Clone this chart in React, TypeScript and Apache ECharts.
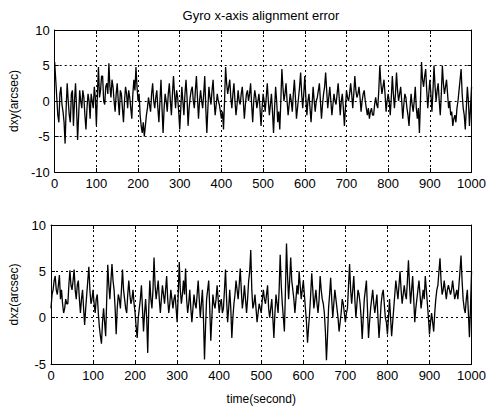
import React, { useEffect, useRef } from "react";
import * as echarts from "echarts";

const TITLE = "Gyro x-axis alignment error";
const X_NAME = "time(second)";
const Y1_NAME = "dxy(arcsec)";
const Y2_NAME = "dxz(arcsec)";
const STEP = 2.5; // seconds between samples

const dxy: number[] = [
  5.5, 3, 0.5, -2, -3, 1, 2, -0.5, -1.5, -3, -6, -1, 2.5, 0, -2, -3, 1, 1.5, -3.5, 0,
  2.5, -1, -5.5, -2, 1.5, 0, -1, 1.5, 0.5, -2, -4, -1, 1, 0, -2.5, 1, 0, -1, 2, 0.5,
  -3.5, 1, 4.8, 0.5, 1.5, 3.5, 3.5, 0, -0.5, 2, 2.5, 1, 5.3, 2, 0.5, 3, 2, 0, -1.5, 1,
  2.5, 0, -2, 1.5, 1, -1, -3, 0, 2, 1, -1, 1.5, 0.5, -1, -2.5, 1, 3, 1.5, 4.8, 2,
  0, 1, -2, -3.5, -4.5, -3, -5, -3.5, -2, -1, 0.5, -0.5, -1.5, 1, 2.5, 0, -1, 0.5, 1.5, -1,
  -3, 0, 3, -1, -4.5, -1, 1, 0, -1.5, 1, 2.5, 0, -2, 1, 3.5, 1, -1, 1.5, 0.5, -1.5,
  -4, -1, 2, 0, -2, 1, 3, 0.5, -3.5, -1, 0.5, 1.5, 2, 0, -1, 1.5, 3.5, 0.5, -2.5, 0,
  1.5, 0, -1, 1, 3.5, -1, -4.5, -1, 2, 0.5, -0.5, 1.5, 3, 0, -2, -0.5, 1, 0, -0.5, -1.5,
  -2.5, -1.5, -4, 0, 4.8, 2.5, 1, 2, 3, 0.5, -1, 1, 2.5, 0, -2, -0.5, 1.5, 0, -0.5, 1,
  2, 0, -2.5, -0.5, 1, 1.5, 0, 1, 2.5, -0.5, -3, 0, 1.5, 0.5, -1, 0, 1, -1, -3.5, -1,
  1, 0, -1.5, 0.5, 2.5, 0, -2, -0.5, 1, -1.5, -4.5, -1, 2, 0, -3, -1.5, -4, 0, 4.5, 2,
  0, 1, 2.5, 0, -2, -0.5, 1, 0, -1.5, 1, 3, 0.5, -2.5, -1, 0.5, 2, 4, 1, -1, 1,
  3.5, 0.5, -2, 0, 1, -1, -3, -0.5, 2, 0, -1.5, 0, 0.5, 1.5, 2.5, 0, -2.5, -0.5, 1, 2,
  4, 1.5, -1, 0.5, 2, 0, -2, -0.5, 1, 0, -0.5, 1, 2.5, 0.5, -2, 0, 1, -1, -3.5, -1,
  1.5, 0.5, 0, 1, 2.5, 1, -1, 1, 3.5, 1.5, 0.5, 1, 2, 0.5, -1.5, 0, 1, 1.5, 0, -1,
  -2, -1, -2.5, -1.5, -1, -2, -2, -0.5, 0.5, -0.5, -1, 1.5, 5, 2.5, 1, 2, 3, 1, -1.5, 0,
  1, 0, -2, 0.5, 3.5, 1, -1, 1, 4, 1.5, 0, 1, 2, 0, -2.5, -0.5, 1, 0.5, -1, -2,
  -3.5, -1, 1, -0.5, -1.5, 0, 2, -1, -2.5, -1, -4.5, 0, 5.5, 3, 2, 3.5, 4.5, 1.5, -1, 1,
  3, 1, -1.5, 1.5, 5, 2, 0, 1.5, 2.5, 0, -2, 1, 5, 2.5, 1, 2, 3, 1, -1, 0,
  -2, -1.5, -3.5, -2.5, -2, -3, -1, 0, 1.5, 3, 4.5, 1, -1, -2, -4, -1, 2, 0, -3.5, -1,
  2,
];

const dxz: number[] = [
  1, 2.5, 3, 4, 4.5, 3, 2.5, 3.5, 4.6, 2, 3, 1.5, 0.5, 1, 2, 1.5, 1.5, 3.5, 5.1, 3.5,
  3, 4, 5.2, 3, 2, 3.5, 4, 2, 0.5, 2, 3, 1, -0.8, 1, 2.5, 4, 5.5, 3, 1.5, 2,
  3, 1.5, 0.5, 2, 2.5, 0.5, -1, -2, -2.8, -0.5, 1, -0.5, -2, 2, 5.7, 3.5, 2, 4, 5.8, 4,
  3, 1, -1.8, 1, 2.5, 2, 1, 3, 5.2, 3, 2, 1, 0.5, 2.5, 4, 2.5, 1.5, 2, 3, 1.5,
  0.5, -1, -2.2, 0, 1, 2, 3.5, 1, -1.5, 0.5, 2, 0, -3.8, 1, 4, 2, 1, 3, 6.5, 3.5,
  2, 3, 4, 2, 0.5, 2, 3.5, 2.5, 1.5, 3, 4.5, 2, 0.5, 1.5, 3, 2, 1, 2, 2.5, 1,
  -0.5, 2.5, 6, 3, 1.5, 2.5, 4, 2.5, 5.3, 2, 0.5, 1.5, 3, 1, -0.5, 1, 2.5, 1.5, 1, 2.5,
  4, 2, 0, 1.5, 3, 0, -4.5, -1, 2, 3, 4, 1, -2.5, 0, 2.5, 1.5, 1, 2, 3.5, 2,
  0.5, 1.5, 2, 0.5, 1, 3, 5.2, 2, -0.5, 1, 3, 1, -2.2, 0, 1.5, 2.5, 4, 3, 2, 3.5,
  5.3, 3, 1, 2, 3.5, 2, 0.5, 2, 4, 5, 7.3, 3, 1, 1.5, 2.5, 1, -0.5, 0.5, 1.5, 1,
  0.5, 2, 3, 2, 1.5, 2.5, 3.5, 1, 0, 1, 2, 0, -2.2, 0.5, 2.5, 1.5, 0.5, 3, 6.8, 3.5,
  1.5, 0, -1.5, 3, 8, 4.5, 2, 4, 6.5, 4, 3, 2, 0.5, 2, 3.5, 2.5, 5, 3.5, 2, 3,
  4, 2.5, 1, -0.5, -2.7, -1, 0.5, 2.5, 4.8, 3, 1, 2, 3, 1.5, 0.5, 2, 4.5, 3, 2, 1.5,
  0.5, -1.5, -4.6, -2, 1, 2.5, 4.3, 2, 0, 1.5, 3, 2, 1, 0, -1.5, -0.5, 0.5, 2, 1.5, 0.5,
  -0.5, 0.5, 1, 3.5, 5.8, 3, 1.5, 3, 4.5, 2, 0, 1.5, 3, 2.5, 1.5, 0, -2.3, 0, 2, 3,
  4, 1, -2.2, -0.5, 1, 2, 3, 1.5, 0.5, 1.5, 2.5, 0, -2.2, -0.5, 1.5, 2.5, 3, 1.5, 0, -0.5,
  -1.8, 0, 2, 0, -2, -0.5, 1, 2.5, 4, 3, 2, 3.5, 5, 3, 1.5, 2.5, 3.5, 2.5, 2, 4,
  6.2, 3.5, 1.5, 3, 4.5, 2, -0.5, 1, 2, 3, 4, 2.5, 1, 2, 3, 2, 4.5, 3, 1.5, 0,
  -1.8, -0.5, 0.5, -0.5, -1.5, 0.5, 2, 3, 3.5, 5, 6.4, 4, 2.5, 3, 4, 3, 2, 3, 3.5, 3,
  2.5, 3, 4, 3, 2, 2.5, 3, 2, 3.5, 5, 6.7, 4, 2, 1, 0.5, 2, 3, 0.5, -2.1, 1,
  5,
];

const FONT = "Arial, 'Liberation Sans', sans-serif";

export default function App() {
  const ref = useRef<HTMLDivElement>(null);
  useEffect(() => {
    if (!ref.current) return;
    const chart = echarts.init(ref.current, undefined, { renderer: "svg" });
    const gridLine = { show: true, lineStyle: { color: "#000", type: [2, 3], width: 1 } };
    const tick = { show: true, inside: true, length: 4, lineStyle: { color: "#000" } };
    const line = { show: true, onZero: false, lineStyle: { color: "#000", width: 1 } };
    const label = {
      color: "#000",
      fontSize: 13,
      fontFamily: FONT,
      formatter: (v: number) => String(v),
    };
    const mkX = (gi: number, name: string) => ({
      type: "value",
      gridIndex: gi,
      min: 0,
      max: 1000,
      interval: 100,
      name,
      nameLocation: "middle",
      nameGap: 29,
      nameTextStyle: { color: "#000", fontSize: 12, fontFamily: FONT },
      axisLine: line,
      axisTick: tick,
      axisLabel: { ...label, margin: 5 },
      splitLine: gridLine,
    });
    const mkXTop = (gi: number) => ({
      type: "value",
      gridIndex: gi,
      position: "top",
      min: 0,
      max: 1000,
      interval: 100,
      axisLine: line,
      axisTick: tick,
      axisLabel: { show: false },
      splitLine: { show: false },
    });
    const mkY = (gi: number, min: number, name: string) => ({
      type: "value",
      gridIndex: gi,
      min,
      max: 10,
      interval: 5,
      name,
      nameLocation: "middle",
      nameGap: 31,
      nameTextStyle: { color: "#000", fontSize: 12, fontFamily: FONT },
      axisLine: line,
      axisTick: tick,
      axisLabel: { ...label, margin: 5 },
      splitLine: gridLine,
    });
    const mkYRight = (gi: number, min: number) => ({
      type: "value",
      gridIndex: gi,
      position: "right",
      min,
      max: 10,
      interval: 5,
      axisLine: line,
      axisTick: tick,
      axisLabel: { show: false },
      splitLine: { show: false },
    });
    chart.setOption({
      animation: false,
      backgroundColor: "#fff",
      graphic: [
        {
          type: "text",
          x: 261,
          y: 15,
          style: {
            text: TITLE,
            fill: "#000",
            fontSize: 13,
            fontFamily: FONT,
            textAlign: "center",
            textVerticalAlign: "middle",
          },
        },
      ],
      grid: [
        { left: 49, top: 30, width: 427, height: 142 },
        { left: 49, top: 225, width: 427, height: 144 },
      ],
      xAxis: [mkX(0, ""), mkX(1, X_NAME), mkXTop(0), mkXTop(1)],
      yAxis: [mkY(0, -10, Y1_NAME), mkY(1, -5, Y2_NAME), mkYRight(0, -10), mkYRight(1, -5)],
      series: [
        {
          type: "line",
          xAxisIndex: 0,
          yAxisIndex: 0,
          data: dxy.map((v, i) => [i * STEP, v]),
          showSymbol: false,
          lineStyle: { color: "#000", width: 1.3 },
        },
        {
          type: "line",
          xAxisIndex: 1,
          yAxisIndex: 1,
          data: dxz.map((v, i) => [i * STEP, v]),
          showSymbol: false,
          lineStyle: { color: "#000", width: 1.3 },
        },
      ],
    });
    return () => chart.dispose();
  }, []);
  return (
    <div
      ref={ref}
      style={{ position: "fixed", left: 0, top: 0, width: 489, height: 406 }}
    />
  );
}
